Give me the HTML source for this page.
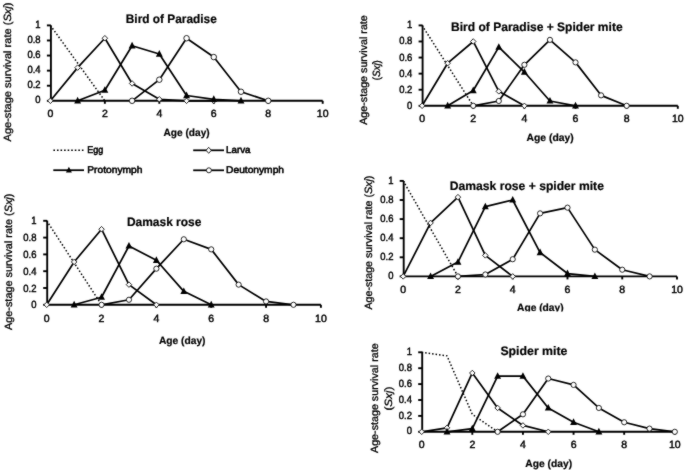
<!DOCTYPE html>
<html><head><meta charset="utf-8"><title>Age-stage survival rate</title>
<style>
html,body{margin:0;padding:0;background:#fff;}
svg{display:block;}
#wrap{width:685px;height:470px;overflow:hidden;will-change:transform;}
text{font-family:"Liberation Sans", sans-serif;text-rendering:geometricPrecision;}
</style></head>
<body>
<div id="wrap">
<svg width="685" height="470" viewBox="0 0 685 470" style='font-family:"Liberation Sans", sans-serif'>
<rect width="685" height="470" fill="#fff"/>
<g filter="url(#soft)">
<rect width="685" height="470" fill="#fff"/>
<defs><filter id="soft" x="0" y="0" width="100%" height="100%" filterUnits="userSpaceOnUse" color-interpolation-filters="sRGB"><feConvolveMatrix order="3" kernelMatrix="1 2 1 2 24 2 1 2 1" edgeMode="duplicate"/></filter><clipPath id="clipD"><rect x="340" y="150" width="345" height="161.6"/></clipPath></defs>
<g id="pA">
<path d="M50.9 25.4V100.8H322.7" fill="none" stroke="#000" stroke-width="1.9"/>
<path d="M46.9 100.8H50.9" stroke="#000" stroke-width="1.9"/>
<path d="M46.9 85.72H50.9" stroke="#000" stroke-width="1.9"/>
<path d="M46.9 70.64H50.9" stroke="#000" stroke-width="1.9"/>
<path d="M46.9 55.56H50.9" stroke="#000" stroke-width="1.9"/>
<path d="M46.9 40.48H50.9" stroke="#000" stroke-width="1.9"/>
<path d="M46.9 25.4H50.9" stroke="#000" stroke-width="1.9"/>
<path d="M104.86 100.8V103.8" stroke="#000" stroke-width="1.9"/>
<path d="M159.32 100.8V103.8" stroke="#000" stroke-width="1.9"/>
<path d="M213.78 100.8V103.8" stroke="#000" stroke-width="1.9"/>
<path d="M268.24 100.8V103.8" stroke="#000" stroke-width="1.9"/>
<path d="M322.7 100.8V103.8" stroke="#000" stroke-width="1.9"/>
<text transform="translate(40.6 103.4) scale(0.9 1)" font-size="10.5" stroke="#000" stroke-width="0.45" text-anchor="end">0</text>
<text transform="translate(40.6 88.32) scale(0.9 1)" font-size="10.5" stroke="#000" stroke-width="0.45" text-anchor="end">0.2</text>
<text transform="translate(40.6 73.24) scale(0.9 1)" font-size="10.5" stroke="#000" stroke-width="0.45" text-anchor="end">0.4</text>
<text transform="translate(40.6 58.16) scale(0.9 1)" font-size="10.5" stroke="#000" stroke-width="0.45" text-anchor="end">0.6</text>
<text transform="translate(40.6 43.08) scale(0.9 1)" font-size="10.5" stroke="#000" stroke-width="0.45" text-anchor="end">0.8</text>
<text transform="translate(40.6 28) scale(0.9 1)" font-size="10.5" stroke="#000" stroke-width="0.45" text-anchor="end">1</text>
<text x="50.4" y="116.85" font-size="10.5" stroke="#000" stroke-width="0.45" text-anchor="middle">0</text>
<text x="104.86" y="116.85" font-size="10.5" stroke="#000" stroke-width="0.45" text-anchor="middle">2</text>
<text x="159.32" y="116.85" font-size="10.5" stroke="#000" stroke-width="0.45" text-anchor="middle">4</text>
<text x="213.78" y="116.85" font-size="10.5" stroke="#000" stroke-width="0.45" text-anchor="middle">6</text>
<text x="268.24" y="116.85" font-size="10.5" stroke="#000" stroke-width="0.45" text-anchor="middle">8</text>
<text x="322.7" y="116.85" font-size="10.5" stroke="#000" stroke-width="0.45" text-anchor="middle">10</text>
<path d="M50.4 25.4L104.86 100.8" fill="none" stroke="#000" stroke-width="1.5" stroke-linejoin="round" stroke-dasharray="1.5 2"/>
<path d="M50.4 100.8L77.63 67.62L104.86 38.22L132.09 83.46L159.32 99.29L186.55 100.8L213.78 100.8" fill="none" stroke="#000" stroke-width="1.7" stroke-linejoin="round"/>
<path d="M77.63 100.8L104.86 90.24L132.09 45.76L159.32 54.05L186.55 95.52L213.78 99.29L241.01 100.8" fill="none" stroke="#000" stroke-width="1.7" stroke-linejoin="round"/>
<path d="M132.09 100.8L159.32 79.69L186.55 38.22L213.78 57.07L241.01 91.75L268.24 100.8" fill="none" stroke="#000" stroke-width="1.7" stroke-linejoin="round"/>
<path d="M50.4 98.05L53.15 100.8L50.4 103.55L47.65 100.8Z" fill="#fff" stroke="#111" stroke-width="0.9"/>
<path d="M77.63 64.87L80.38 67.62L77.63 70.37L74.88 67.62Z" fill="#fff" stroke="#111" stroke-width="0.9"/>
<path d="M104.86 35.47L107.61 38.22L104.86 40.97L102.11 38.22Z" fill="#fff" stroke="#111" stroke-width="0.9"/>
<path d="M132.09 80.71L134.84 83.46L132.09 86.21L129.34 83.46Z" fill="#fff" stroke="#111" stroke-width="0.9"/>
<path d="M159.32 96.54L162.07 99.29L159.32 102.04L156.57 99.29Z" fill="#fff" stroke="#111" stroke-width="0.9"/>
<path d="M186.55 98.05L189.3 100.8L186.55 103.55L183.8 100.8Z" fill="#fff" stroke="#111" stroke-width="0.9"/>
<path d="M213.78 98.05L216.53 100.8L213.78 103.55L211.03 100.8Z" fill="#fff" stroke="#111" stroke-width="0.9"/>
<path d="M77.63 96.87L81.08 103.42L74.18 103.42Z" fill="#000"/>
<path d="M104.86 86.31L108.31 92.87L101.41 92.87Z" fill="#000"/>
<path d="M132.09 41.82L135.54 48.38L128.64 48.38Z" fill="#000"/>
<path d="M159.32 50.12L162.77 56.67L155.87 56.67Z" fill="#000"/>
<path d="M186.55 91.59L190 98.14L183.1 98.14Z" fill="#000"/>
<path d="M213.78 95.36L217.23 101.91L210.33 101.91Z" fill="#000"/>
<path d="M241.01 96.87L244.46 103.42L237.56 103.42Z" fill="#000"/>
<circle cx="132.09" cy="100.8" r="2.75" fill="#fff" stroke="#111" stroke-width="0.9"/>
<circle cx="159.32" cy="79.69" r="2.75" fill="#fff" stroke="#111" stroke-width="0.9"/>
<circle cx="186.55" cy="38.22" r="2.75" fill="#fff" stroke="#111" stroke-width="0.9"/>
<circle cx="213.78" cy="57.07" r="2.75" fill="#fff" stroke="#111" stroke-width="0.9"/>
<circle cx="241.01" cy="91.75" r="2.75" fill="#fff" stroke="#111" stroke-width="0.9"/>
<circle cx="268.24" cy="100.8" r="2.75" fill="#fff" stroke="#111" stroke-width="0.9"/>
<text x="125.8" y="22.6" font-size="12.3" font-weight="bold" fill="#000" stroke="#000" stroke-width="0.2" textLength="91" lengthAdjust="spacingAndGlyphs">Bird of Paradise</text>
<text x="163.5" y="135.8" font-size="10.4" font-weight="bold" fill="#000" stroke="#000" stroke-width="0.2" textLength="46.2" lengthAdjust="spacingAndGlyphs">Age (day)</text>
<text transform="translate(11.1 141.5) rotate(-90)" x="0" y="0" font-size="10.5" font-weight="normal" stroke="#000" stroke-width="0.3" textLength="139" lengthAdjust="spacingAndGlyphs">Age-stage survival rate (<tspan font-style="italic">Sxj</tspan>)</text>
</g>
<g id="pB">
<path d="M422.6 25.4V105.8H677.8" fill="none" stroke="#000" stroke-width="1.9"/>
<path d="M418.6 105.8H422.6" stroke="#000" stroke-width="1.9"/>
<path d="M418.6 89.72H422.6" stroke="#000" stroke-width="1.9"/>
<path d="M418.6 73.64H422.6" stroke="#000" stroke-width="1.9"/>
<path d="M418.6 57.56H422.6" stroke="#000" stroke-width="1.9"/>
<path d="M418.6 41.48H422.6" stroke="#000" stroke-width="1.9"/>
<path d="M418.6 25.4H422.6" stroke="#000" stroke-width="1.9"/>
<path d="M473.24 105.8V108.8" stroke="#000" stroke-width="1.9"/>
<path d="M524.38 105.8V108.8" stroke="#000" stroke-width="1.9"/>
<path d="M575.52 105.8V108.8" stroke="#000" stroke-width="1.9"/>
<path d="M626.66 105.8V108.8" stroke="#000" stroke-width="1.9"/>
<path d="M677.8 105.8V108.8" stroke="#000" stroke-width="1.9"/>
<text transform="translate(412.3 108.8) scale(0.9 1)" font-size="10.5" stroke="#000" stroke-width="0.45" text-anchor="end">0</text>
<text transform="translate(412.3 92.72) scale(0.9 1)" font-size="10.5" stroke="#000" stroke-width="0.45" text-anchor="end">0.2</text>
<text transform="translate(412.3 76.64) scale(0.9 1)" font-size="10.5" stroke="#000" stroke-width="0.45" text-anchor="end">0.4</text>
<text transform="translate(412.3 60.56) scale(0.9 1)" font-size="10.5" stroke="#000" stroke-width="0.45" text-anchor="end">0.6</text>
<text transform="translate(412.3 44.48) scale(0.9 1)" font-size="10.5" stroke="#000" stroke-width="0.45" text-anchor="end">0.8</text>
<text transform="translate(412.3 28.4) scale(0.9 1)" font-size="10.5" stroke="#000" stroke-width="0.45" text-anchor="end">1</text>
<text x="422.1" y="121.85" font-size="10.5" stroke="#000" stroke-width="0.45" text-anchor="middle">0</text>
<text x="473.24" y="121.85" font-size="10.5" stroke="#000" stroke-width="0.45" text-anchor="middle">2</text>
<text x="524.38" y="121.85" font-size="10.5" stroke="#000" stroke-width="0.45" text-anchor="middle">4</text>
<text x="575.52" y="121.85" font-size="10.5" stroke="#000" stroke-width="0.45" text-anchor="middle">6</text>
<text x="626.66" y="121.85" font-size="10.5" stroke="#000" stroke-width="0.45" text-anchor="middle">8</text>
<text x="677.8" y="121.85" font-size="10.5" stroke="#000" stroke-width="0.45" text-anchor="middle">10</text>
<path d="M422.1 25.4L473.24 105.8" fill="none" stroke="#000" stroke-width="1.5" stroke-linejoin="round" stroke-dasharray="1.5 2"/>
<path d="M422.1 105.8L447.67 63.19L473.24 41.48L498.81 91.33L524.38 105.8" fill="none" stroke="#000" stroke-width="1.7" stroke-linejoin="round"/>
<path d="M447.67 105.8L473.24 90.52L498.81 47.11L524.38 72.03L549.95 100.98L575.52 105.8" fill="none" stroke="#000" stroke-width="1.7" stroke-linejoin="round"/>
<path d="M473.24 105.8L498.81 100.98L524.38 64.8L549.95 39.87L575.52 62.38L601.09 95.35L626.66 105.8" fill="none" stroke="#000" stroke-width="1.7" stroke-linejoin="round"/>
<path d="M422.1 103.05L424.85 105.8L422.1 108.55L419.35 105.8Z" fill="#fff" stroke="#111" stroke-width="0.9"/>
<path d="M447.67 60.44L450.42 63.19L447.67 65.94L444.92 63.19Z" fill="#fff" stroke="#111" stroke-width="0.9"/>
<path d="M473.24 38.73L475.99 41.48L473.24 44.23L470.49 41.48Z" fill="#fff" stroke="#111" stroke-width="0.9"/>
<path d="M498.81 88.58L501.56 91.33L498.81 94.08L496.06 91.33Z" fill="#fff" stroke="#111" stroke-width="0.9"/>
<path d="M524.38 103.05L527.13 105.8L524.38 108.55L521.63 105.8Z" fill="#fff" stroke="#111" stroke-width="0.9"/>
<path d="M447.67 101.87L451.12 108.42L444.22 108.42Z" fill="#000"/>
<path d="M473.24 86.59L476.69 93.15L469.79 93.15Z" fill="#000"/>
<path d="M498.81 43.17L502.26 49.73L495.36 49.73Z" fill="#000"/>
<path d="M524.38 68.1L527.83 74.65L520.93 74.65Z" fill="#000"/>
<path d="M549.95 97.04L553.4 103.6L546.5 103.6Z" fill="#000"/>
<path d="M575.52 101.87L578.97 108.42L572.07 108.42Z" fill="#000"/>
<circle cx="473.24" cy="105.8" r="2.6" fill="#fff" stroke="#111" stroke-width="0.9"/>
<circle cx="498.81" cy="100.98" r="2.6" fill="#fff" stroke="#111" stroke-width="0.9"/>
<circle cx="524.38" cy="64.8" r="2.6" fill="#fff" stroke="#111" stroke-width="0.9"/>
<circle cx="549.95" cy="39.87" r="2.6" fill="#fff" stroke="#111" stroke-width="0.9"/>
<circle cx="575.52" cy="62.38" r="2.6" fill="#fff" stroke="#111" stroke-width="0.9"/>
<circle cx="601.09" cy="95.35" r="2.6" fill="#fff" stroke="#111" stroke-width="0.9"/>
<circle cx="626.66" cy="105.8" r="2.6" fill="#fff" stroke="#111" stroke-width="0.9"/>
<text x="451.1" y="30.6" font-size="12.3" font-weight="bold" fill="#000" stroke="#000" stroke-width="0.2" textLength="171.5" lengthAdjust="spacingAndGlyphs">Bird of Paradise + Spider mite</text>
<text x="526.6" y="140.7" font-size="10.4" font-weight="bold" fill="#000" stroke="#000" stroke-width="0.2" textLength="47.1" lengthAdjust="spacingAndGlyphs">Age (day)</text>
<text transform="translate(367.2 124.8) rotate(-90)" x="0" y="0" font-size="10.5" font-weight="normal" stroke="#000" stroke-width="0.3" textLength="109.6" lengthAdjust="spacingAndGlyphs">Age-stage survival rate</text>
<text transform="translate(379.5 80.2) rotate(-90)" x="0" y="0" font-size="10.5" font-weight="normal" stroke="#000" stroke-width="0.3" textLength="20" lengthAdjust="spacingAndGlyphs">(<tspan font-style="italic">Sxj</tspan>)</text>
</g>
<g id="pC">
<path d="M47.2 220.8V304.8H320.9" fill="none" stroke="#000" stroke-width="1.9"/>
<path d="M43.2 304.8H47.2" stroke="#000" stroke-width="1.9"/>
<path d="M43.2 288H47.2" stroke="#000" stroke-width="1.9"/>
<path d="M43.2 271.2H47.2" stroke="#000" stroke-width="1.9"/>
<path d="M43.2 254.4H47.2" stroke="#000" stroke-width="1.9"/>
<path d="M43.2 237.6H47.2" stroke="#000" stroke-width="1.9"/>
<path d="M43.2 220.8H47.2" stroke="#000" stroke-width="1.9"/>
<path d="M101.54 304.8V307.8" stroke="#000" stroke-width="1.9"/>
<path d="M156.38 304.8V307.8" stroke="#000" stroke-width="1.9"/>
<path d="M211.22 304.8V307.8" stroke="#000" stroke-width="1.9"/>
<path d="M266.06 304.8V307.8" stroke="#000" stroke-width="1.9"/>
<path d="M320.9 304.8V307.8" stroke="#000" stroke-width="1.9"/>
<text transform="translate(36.5 308.4) scale(0.9 1)" font-size="10.5" stroke="#000" stroke-width="0.45" text-anchor="end">0</text>
<text transform="translate(36.5 291.6) scale(0.9 1)" font-size="10.5" stroke="#000" stroke-width="0.45" text-anchor="end">0.2</text>
<text transform="translate(36.5 274.8) scale(0.9 1)" font-size="10.5" stroke="#000" stroke-width="0.45" text-anchor="end">0.4</text>
<text transform="translate(36.5 258) scale(0.9 1)" font-size="10.5" stroke="#000" stroke-width="0.45" text-anchor="end">0.6</text>
<text transform="translate(36.5 241.2) scale(0.9 1)" font-size="10.5" stroke="#000" stroke-width="0.45" text-anchor="end">0.8</text>
<text transform="translate(36.5 224.4) scale(0.9 1)" font-size="10.5" stroke="#000" stroke-width="0.45" text-anchor="end">1</text>
<text x="46.7" y="321.95" font-size="10.5" stroke="#000" stroke-width="0.45" text-anchor="middle">0</text>
<text x="101.54" y="321.95" font-size="10.5" stroke="#000" stroke-width="0.45" text-anchor="middle">2</text>
<text x="156.38" y="321.95" font-size="10.5" stroke="#000" stroke-width="0.45" text-anchor="middle">4</text>
<text x="211.22" y="321.95" font-size="10.5" stroke="#000" stroke-width="0.45" text-anchor="middle">6</text>
<text x="266.06" y="321.95" font-size="10.5" stroke="#000" stroke-width="0.45" text-anchor="middle">8</text>
<text x="320.9" y="321.95" font-size="10.5" stroke="#000" stroke-width="0.45" text-anchor="middle">10</text>
<path d="M46.7 220.8L101.54 304.8" fill="none" stroke="#000" stroke-width="1.5" stroke-linejoin="round" stroke-dasharray="1.5 2"/>
<path d="M46.7 304.8L74.12 261.96L101.54 229.2L128.96 284.64L156.38 304.8" fill="none" stroke="#000" stroke-width="1.7" stroke-linejoin="round"/>
<path d="M74.12 304.8L101.54 297.24L128.96 246L156.38 260.28L183.8 291.36L211.22 304.8" fill="none" stroke="#000" stroke-width="1.7" stroke-linejoin="round"/>
<path d="M101.54 304.8L128.96 299.76L156.38 268.68L183.8 239.28L211.22 249.36L238.64 284.64L266.06 301.44L293.48 304.8" fill="none" stroke="#000" stroke-width="1.7" stroke-linejoin="round"/>
<path d="M46.7 302.05L49.45 304.8L46.7 307.55L43.95 304.8Z" fill="#fff" stroke="#111" stroke-width="0.9"/>
<path d="M74.12 259.21L76.87 261.96L74.12 264.71L71.37 261.96Z" fill="#fff" stroke="#111" stroke-width="0.9"/>
<path d="M101.54 226.45L104.29 229.2L101.54 231.95L98.79 229.2Z" fill="#fff" stroke="#111" stroke-width="0.9"/>
<path d="M128.96 281.89L131.71 284.64L128.96 287.39L126.21 284.64Z" fill="#fff" stroke="#111" stroke-width="0.9"/>
<path d="M156.38 302.05L159.13 304.8L156.38 307.55L153.63 304.8Z" fill="#fff" stroke="#111" stroke-width="0.9"/>
<path d="M74.12 300.87L77.57 307.42L70.67 307.42Z" fill="#000"/>
<path d="M101.54 293.31L104.99 299.86L98.09 299.86Z" fill="#000"/>
<path d="M128.96 242.07L132.41 248.62L125.51 248.62Z" fill="#000"/>
<path d="M156.38 256.35L159.83 262.9L152.93 262.9Z" fill="#000"/>
<path d="M183.8 287.43L187.25 293.98L180.35 293.98Z" fill="#000"/>
<path d="M211.22 300.87L214.67 307.42L207.77 307.42Z" fill="#000"/>
<circle cx="101.54" cy="304.8" r="2.6" fill="#fff" stroke="#111" stroke-width="0.9"/>
<circle cx="128.96" cy="299.76" r="2.6" fill="#fff" stroke="#111" stroke-width="0.9"/>
<circle cx="156.38" cy="268.68" r="2.6" fill="#fff" stroke="#111" stroke-width="0.9"/>
<circle cx="183.8" cy="239.28" r="2.6" fill="#fff" stroke="#111" stroke-width="0.9"/>
<circle cx="211.22" cy="249.36" r="2.6" fill="#fff" stroke="#111" stroke-width="0.9"/>
<circle cx="238.64" cy="284.64" r="2.6" fill="#fff" stroke="#111" stroke-width="0.9"/>
<circle cx="266.06" cy="301.44" r="2.6" fill="#fff" stroke="#111" stroke-width="0.9"/>
<circle cx="293.48" cy="304.8" r="2.6" fill="#fff" stroke="#111" stroke-width="0.9"/>
<text x="126.9" y="226.3" font-size="12.3" font-weight="bold" fill="#000" stroke="#000" stroke-width="0.2" textLength="74.5" lengthAdjust="spacingAndGlyphs">Damask rose</text>
<text x="158.9" y="343.9" font-size="10.4" font-weight="bold" fill="#000" stroke="#000" stroke-width="0.2" textLength="46.6" lengthAdjust="spacingAndGlyphs">Age (day)</text>
<text transform="translate(11.5 330) rotate(-90)" x="0" y="0" font-size="10.5" font-weight="normal" stroke="#000" stroke-width="0.3" textLength="136.4" lengthAdjust="spacingAndGlyphs">Age-stage survival rate (<tspan font-style="italic">Sxj</tspan>)</text>
</g>
<g id="pD">
<path d="M403.7 180.9V276.4H677" fill="none" stroke="#000" stroke-width="1.9"/>
<path d="M399.7 276.4H403.7" stroke="#000" stroke-width="1.9"/>
<path d="M399.7 257.3H403.7" stroke="#000" stroke-width="1.9"/>
<path d="M399.7 238.2H403.7" stroke="#000" stroke-width="1.9"/>
<path d="M399.7 219.1H403.7" stroke="#000" stroke-width="1.9"/>
<path d="M399.7 200H403.7" stroke="#000" stroke-width="1.9"/>
<path d="M399.7 180.9H403.7" stroke="#000" stroke-width="1.9"/>
<path d="M457.96 276.4V279.4" stroke="#000" stroke-width="1.9"/>
<path d="M512.72 276.4V279.4" stroke="#000" stroke-width="1.9"/>
<path d="M567.48 276.4V279.4" stroke="#000" stroke-width="1.9"/>
<path d="M622.24 276.4V279.4" stroke="#000" stroke-width="1.9"/>
<path d="M677 276.4V279.4" stroke="#000" stroke-width="1.9"/>
<text transform="translate(393.4 279) scale(0.9 1)" font-size="10.5" stroke="#000" stroke-width="0.45" text-anchor="end">0</text>
<text transform="translate(393.4 259.9) scale(0.9 1)" font-size="10.5" stroke="#000" stroke-width="0.45" text-anchor="end">0.2</text>
<text transform="translate(393.4 240.8) scale(0.9 1)" font-size="10.5" stroke="#000" stroke-width="0.45" text-anchor="end">0.4</text>
<text transform="translate(393.4 221.7) scale(0.9 1)" font-size="10.5" stroke="#000" stroke-width="0.45" text-anchor="end">0.6</text>
<text transform="translate(393.4 202.6) scale(0.9 1)" font-size="10.5" stroke="#000" stroke-width="0.45" text-anchor="end">0.8</text>
<text transform="translate(393.4 183.5) scale(0.9 1)" font-size="10.5" stroke="#000" stroke-width="0.45" text-anchor="end">1</text>
<text x="403.2" y="293.25" font-size="10.5" stroke="#000" stroke-width="0.45" text-anchor="middle">0</text>
<text x="457.96" y="293.25" font-size="10.5" stroke="#000" stroke-width="0.45" text-anchor="middle">2</text>
<text x="512.72" y="293.25" font-size="10.5" stroke="#000" stroke-width="0.45" text-anchor="middle">4</text>
<text x="567.48" y="293.25" font-size="10.5" stroke="#000" stroke-width="0.45" text-anchor="middle">6</text>
<text x="622.24" y="293.25" font-size="10.5" stroke="#000" stroke-width="0.45" text-anchor="middle">8</text>
<text x="677" y="293.25" font-size="10.5" stroke="#000" stroke-width="0.45" text-anchor="middle">10</text>
<path d="M403.2 180.9L457.96 276.4" fill="none" stroke="#000" stroke-width="1.5" stroke-linejoin="round" stroke-dasharray="1.5 2"/>
<path d="M403.2 276.4L430.58 222.92L457.96 197.13L485.34 255.39L512.72 276.4" fill="none" stroke="#000" stroke-width="1.7" stroke-linejoin="round"/>
<path d="M430.58 276.4L457.96 262.07L485.34 206.68L512.72 200L540.1 252.52L567.48 273.53L594.86 276.4" fill="none" stroke="#000" stroke-width="1.7" stroke-linejoin="round"/>
<path d="M457.96 276.4L485.34 274.49L512.72 259.21L540.1 213.37L567.48 207.64L594.86 249.66L622.24 269.71L649.62 276.4" fill="none" stroke="#000" stroke-width="1.7" stroke-linejoin="round"/>
<path d="M403.2 273.65L405.95 276.4L403.2 279.15L400.45 276.4Z" fill="#fff" stroke="#111" stroke-width="0.9"/>
<path d="M430.58 220.17L433.33 222.92L430.58 225.67L427.83 222.92Z" fill="#fff" stroke="#111" stroke-width="0.9"/>
<path d="M457.96 194.38L460.71 197.13L457.96 199.88L455.21 197.13Z" fill="#fff" stroke="#111" stroke-width="0.9"/>
<path d="M485.34 252.64L488.09 255.39L485.34 258.14L482.59 255.39Z" fill="#fff" stroke="#111" stroke-width="0.9"/>
<path d="M512.72 273.65L515.47 276.4L512.72 279.15L509.97 276.4Z" fill="#fff" stroke="#111" stroke-width="0.9"/>
<path d="M430.58 272.47L434.03 279.02L427.13 279.02Z" fill="#000"/>
<path d="M457.96 258.14L461.41 264.7L454.51 264.7Z" fill="#000"/>
<path d="M485.34 202.75L488.79 209.31L481.89 209.31Z" fill="#000"/>
<path d="M512.72 196.07L516.17 202.62L509.27 202.62Z" fill="#000"/>
<path d="M540.1 248.59L543.55 255.15L536.65 255.15Z" fill="#000"/>
<path d="M567.48 269.6L570.93 276.16L564.03 276.16Z" fill="#000"/>
<path d="M594.86 272.47L598.31 279.02L591.41 279.02Z" fill="#000"/>
<circle cx="457.96" cy="276.4" r="2.6" fill="#fff" stroke="#111" stroke-width="0.9"/>
<circle cx="485.34" cy="274.49" r="2.6" fill="#fff" stroke="#111" stroke-width="0.9"/>
<circle cx="512.72" cy="259.21" r="2.6" fill="#fff" stroke="#111" stroke-width="0.9"/>
<circle cx="540.1" cy="213.37" r="2.6" fill="#fff" stroke="#111" stroke-width="0.9"/>
<circle cx="567.48" cy="207.64" r="2.6" fill="#fff" stroke="#111" stroke-width="0.9"/>
<circle cx="594.86" cy="249.66" r="2.6" fill="#fff" stroke="#111" stroke-width="0.9"/>
<circle cx="622.24" cy="269.71" r="2.6" fill="#fff" stroke="#111" stroke-width="0.9"/>
<circle cx="649.62" cy="276.4" r="2.6" fill="#fff" stroke="#111" stroke-width="0.9"/>
<text x="449.8" y="190.4" font-size="12.3" font-weight="bold" fill="#000" stroke="#000" stroke-width="0.2" textLength="154.1" lengthAdjust="spacingAndGlyphs">Damask rose + spider mite</text>
<g clip-path="url(#clipD)"><text x="517" y="311.3" font-size="10.4" font-weight="bold" fill="#000" stroke="#000" stroke-width="0.2" textLength="46.6" lengthAdjust="spacingAndGlyphs">Age (day)</text></g>
<text transform="translate(371.5 309.6) rotate(-90)" x="0" y="0" font-size="10.5" font-weight="normal" stroke="#000" stroke-width="0.3" textLength="134" lengthAdjust="spacingAndGlyphs">Age-stage survival rate (<tspan font-style="italic">Sxj</tspan>)</text>
</g>
<g id="pE">
<path d="M422.2 352.3V431.8H674.8" fill="none" stroke="#000" stroke-width="1.9"/>
<path d="M418.2 431.8H422.2" stroke="#000" stroke-width="1.9"/>
<path d="M418.2 415.9H422.2" stroke="#000" stroke-width="1.9"/>
<path d="M418.2 400H422.2" stroke="#000" stroke-width="1.9"/>
<path d="M418.2 384.1H422.2" stroke="#000" stroke-width="1.9"/>
<path d="M418.2 368.2H422.2" stroke="#000" stroke-width="1.9"/>
<path d="M418.2 352.3H422.2" stroke="#000" stroke-width="1.9"/>
<path d="M472.32 431.8V434.8" stroke="#000" stroke-width="1.9"/>
<path d="M522.94 431.8V434.8" stroke="#000" stroke-width="1.9"/>
<path d="M573.56 431.8V434.8" stroke="#000" stroke-width="1.9"/>
<path d="M624.18 431.8V434.8" stroke="#000" stroke-width="1.9"/>
<path d="M674.8 431.8V434.8" stroke="#000" stroke-width="1.9"/>
<text transform="translate(411.9 434.4) scale(0.9 1)" font-size="10.5" stroke="#000" stroke-width="0.45" text-anchor="end">0</text>
<text transform="translate(411.9 418.5) scale(0.9 1)" font-size="10.5" stroke="#000" stroke-width="0.45" text-anchor="end">0.2</text>
<text transform="translate(411.9 402.6) scale(0.9 1)" font-size="10.5" stroke="#000" stroke-width="0.45" text-anchor="end">0.4</text>
<text transform="translate(411.9 386.7) scale(0.9 1)" font-size="10.5" stroke="#000" stroke-width="0.45" text-anchor="end">0.6</text>
<text transform="translate(411.9 370.8) scale(0.9 1)" font-size="10.5" stroke="#000" stroke-width="0.45" text-anchor="end">0.8</text>
<text transform="translate(411.9 354.9) scale(0.9 1)" font-size="10.5" stroke="#000" stroke-width="0.45" text-anchor="end">1</text>
<text x="421.7" y="447.85" font-size="10.5" stroke="#000" stroke-width="0.45" text-anchor="middle">0</text>
<text x="472.32" y="447.85" font-size="10.5" stroke="#000" stroke-width="0.45" text-anchor="middle">2</text>
<text x="522.94" y="447.85" font-size="10.5" stroke="#000" stroke-width="0.45" text-anchor="middle">4</text>
<text x="573.56" y="447.85" font-size="10.5" stroke="#000" stroke-width="0.45" text-anchor="middle">6</text>
<text x="624.18" y="447.85" font-size="10.5" stroke="#000" stroke-width="0.45" text-anchor="middle">8</text>
<text x="674.8" y="447.85" font-size="10.5" stroke="#000" stroke-width="0.45" text-anchor="middle">10</text>
<path d="M421.7 352.3L447.01 355.88L472.32 414.31L497.63 431.8" fill="none" stroke="#000" stroke-width="1.5" stroke-linejoin="round" stroke-dasharray="1.5 2"/>
<path d="M421.7 431.8L447.01 427.82L472.32 372.97L497.63 407.95L522.94 425.44L548.25 431.8" fill="none" stroke="#000" stroke-width="1.7" stroke-linejoin="round"/>
<path d="M447.01 431.8L472.32 428.62L497.63 376.15L522.94 376.15L548.25 407.95L573.56 422.26L598.87 431.8" fill="none" stroke="#000" stroke-width="1.7" stroke-linejoin="round"/>
<path d="M497.63 431.8L522.94 414.31L548.25 378.54L573.56 384.9L598.87 407.95L624.18 422.26L649.49 428.62L674.8 431.8" fill="none" stroke="#000" stroke-width="1.7" stroke-linejoin="round"/>
<path d="M421.7 429.05L424.45 431.8L421.7 434.55L418.95 431.8Z" fill="#fff" stroke="#111" stroke-width="0.9"/>
<path d="M447.01 425.07L449.76 427.82L447.01 430.57L444.26 427.82Z" fill="#fff" stroke="#111" stroke-width="0.9"/>
<path d="M472.32 370.22L475.07 372.97L472.32 375.72L469.57 372.97Z" fill="#fff" stroke="#111" stroke-width="0.9"/>
<path d="M497.63 405.2L500.38 407.95L497.63 410.7L494.88 407.95Z" fill="#fff" stroke="#111" stroke-width="0.9"/>
<path d="M522.94 422.69L525.69 425.44L522.94 428.19L520.19 425.44Z" fill="#fff" stroke="#111" stroke-width="0.9"/>
<path d="M548.25 429.05L551 431.8L548.25 434.55L545.5 431.8Z" fill="#fff" stroke="#111" stroke-width="0.9"/>
<path d="M447.01 427.87L450.46 434.42L443.56 434.42Z" fill="#000"/>
<path d="M472.32 424.69L475.77 431.24L468.87 431.24Z" fill="#000"/>
<path d="M497.63 372.22L501.08 378.77L494.18 378.77Z" fill="#000"/>
<path d="M522.94 372.22L526.39 378.77L519.49 378.77Z" fill="#000"/>
<path d="M548.25 404.02L551.7 410.57L544.8 410.57Z" fill="#000"/>
<path d="M573.56 418.33L577.01 424.88L570.11 424.88Z" fill="#000"/>
<path d="M598.87 427.87L602.32 434.42L595.42 434.42Z" fill="#000"/>
<circle cx="497.63" cy="431.8" r="2.6" fill="#fff" stroke="#111" stroke-width="0.9"/>
<circle cx="522.94" cy="414.31" r="2.6" fill="#fff" stroke="#111" stroke-width="0.9"/>
<circle cx="548.25" cy="378.54" r="2.6" fill="#fff" stroke="#111" stroke-width="0.9"/>
<circle cx="573.56" cy="384.9" r="2.6" fill="#fff" stroke="#111" stroke-width="0.9"/>
<circle cx="598.87" cy="407.95" r="2.6" fill="#fff" stroke="#111" stroke-width="0.9"/>
<circle cx="624.18" cy="422.26" r="2.6" fill="#fff" stroke="#111" stroke-width="0.9"/>
<circle cx="649.49" cy="428.62" r="2.6" fill="#fff" stroke="#111" stroke-width="0.9"/>
<circle cx="674.8" cy="431.8" r="2.6" fill="#fff" stroke="#111" stroke-width="0.9"/>
<text x="500.4" y="354.6" font-size="12.3" font-weight="bold" fill="#000" stroke="#000" stroke-width="0.2" textLength="67" lengthAdjust="spacingAndGlyphs">Spider mite</text>
<text x="525.3" y="466.5" font-size="10.4" font-weight="bold" fill="#000" stroke="#000" stroke-width="0.2" textLength="46.8" lengthAdjust="spacingAndGlyphs">Age (day)</text>
<text transform="translate(378.3 453) rotate(-90)" x="0" y="0" font-size="10.5" font-weight="normal" stroke="#000" stroke-width="0.3" textLength="109.6" lengthAdjust="spacingAndGlyphs">Age-stage survival rate</text>
<text transform="translate(392 410.6) rotate(-90)" x="0" y="0" font-size="10.5" font-weight="normal" stroke="#000" stroke-width="0.3" textLength="23.9" lengthAdjust="spacingAndGlyphs">(<tspan font-style="italic">Sxj</tspan>)</text>
</g>
<g id="legend">
<path d="M53.4 150.2H83.5" stroke="#000" stroke-width="1.6" stroke-dasharray="1.6 1.96"/>
<text x="87.3" y="153.1" font-size="9.7" font-weight="normal" fill="#000" stroke="#000" stroke-width="0.55" textLength="16" lengthAdjust="spacingAndGlyphs">Egg</text>
<path d="M53.3 170.2H84" stroke="#000" stroke-width="1.75"/>
<path d="M68.9 166.78L71.9 172.48L65.9 172.48Z" fill="#000"/>
<text x="87.3" y="172.9" font-size="9.7" font-weight="normal" fill="#000" stroke="#000" stroke-width="0.55" textLength="55.1" lengthAdjust="spacingAndGlyphs">Protonymph</text>
<path d="M193.2 150.3H224" stroke="#000" stroke-width="1.75"/>
<path d="M208.7 147.3L211.3 150.3L208.7 153.3L206.1 150.3Z" fill="#fff" stroke="#111" stroke-width="0.9"/>
<text x="226.1" y="152.8" font-size="9.7" font-weight="normal" fill="#000" stroke="#000" stroke-width="0.55" textLength="24.4" lengthAdjust="spacingAndGlyphs">Larva</text>
<path d="M193.2 170.3H224" stroke="#000" stroke-width="1.75"/>
<circle cx="208.9" cy="170.3" r="2.5" fill="#fff" stroke="#111" stroke-width="0.9"/>
<text x="226.1" y="172.8" font-size="9.7" font-weight="normal" fill="#000" stroke="#000" stroke-width="0.55" textLength="57.9" lengthAdjust="spacingAndGlyphs">Deutonymph</text>
</g>
</g>
</svg>
</div>
</body></html>
